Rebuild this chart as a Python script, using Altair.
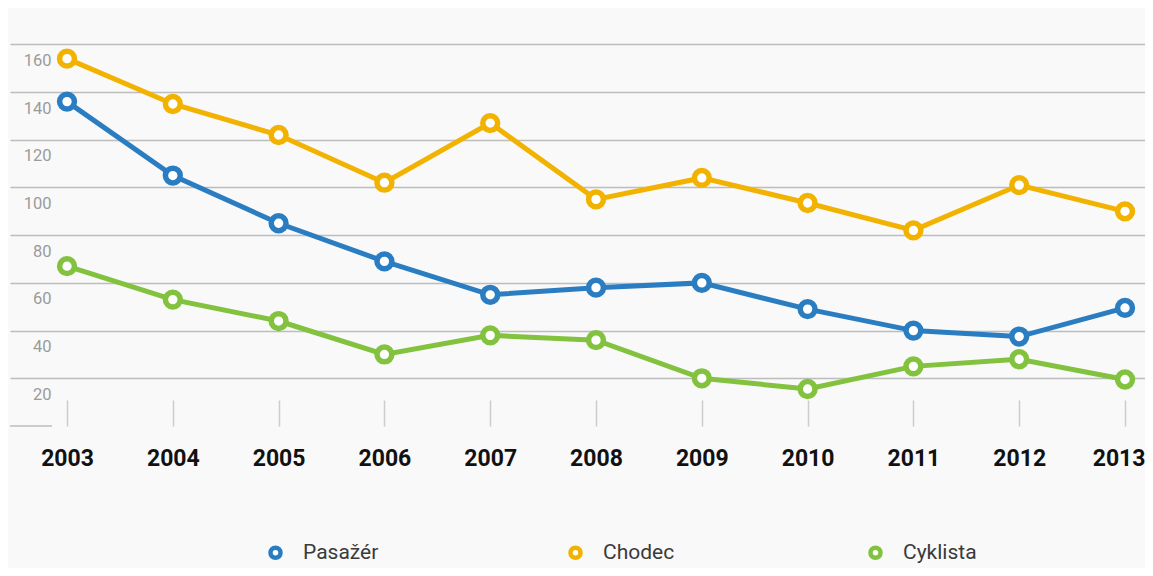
import altair as alt
import pandas as pd

years = [2003, 2004, 2005, 2006, 2007, 2008, 2009, 2010, 2011, 2012, 2013]
series = ["Pasažér", "Chodec", "Cyklista"]
pasazer = [136, 105, 85, 69, 55, 58, 60, 49, 40, 37.5, 49.5]
chodec = [154, 135, 122, 102, 127, 95, 104, 93.5, 82, 101, 90]
cyklista = [67, 53, 44, 30, 38, 36, 20, 15.5, 25, 28, 19.5]
y_ticks = [20, 40, 60, 80, 100, 120, 140, 160]
colors = ["#2b7dc2", "#f2b200", "#82c23e"]

rows = []
for name, vals in zip(series, [pasazer, chodec, cyklista]):
    for yr, v in zip(years, vals):
        rows.append({"rok": yr, "hodnota": v, "typ": name})
df = pd.DataFrame(rows)

xscale = alt.Scale(domain=[2002.461, 2013.189], nice=False, zero=False)
yscale = alt.Scale(domain=[0, 174.4], nice=False)
cscale = alt.Scale(domain=series, range=colors)

legend = alt.Legend(title=None, orient="none", legendX=255, legendY=532,
                    direction="horizontal", columns=3, gridAlign="all",
                    columnPadding=182, symbolType="circle",
                    symbolSize=100, symbolStrokeWidth=4.5,
                    symbolFillColor="#ffffff", labelOffset=17,
                    labelFont="Roboto", labelFontSize=21,
                    labelColor="#3a3a3a")

x_enc = alt.X("rok:Q", scale=xscale,
              axis=alt.Axis(values=years, format="d", title=None, grid=False,
                            domain=False, ticks=True, tickSize=26, tickWidth=1.5,
                            tickColor="#cccccc", offset=-26, labelPadding=21,
                            labelFont="Roboto", labelFontSize=23, labelFontWeight="bold",
                            labelColor="#111111", labelFlush=30, labelFlushOffset=20))
y_enc = alt.Y("hodnota:Q", scale=yscale,
              axis=alt.Axis(values=y_ticks, title=None, grid=True, gridColor="#bdbdbd",
                            gridWidth=1.5, domain=False, ticks=False, tickSize=0,
                            labelAlign="right", labelPadding=-41, labelOffset=16,
                            labelFont="Roboto", labelFontSize=16.5, labelColor="#9b9b9b"))

base = alt.Chart(df)

zero_line = alt.Chart(pd.DataFrame({"hodnota": [0]})).mark_rule(
    color="#bdbdbd", strokeWidth=1.5
).encode(y=alt.Y("hodnota:Q", scale=yscale), x=alt.value(0), x2=alt.value(42))

lines = base.mark_line(strokeWidth=5).encode(
    x=x_enc, y=y_enc,
    color=alt.Color("typ:N", scale=cscale, legend=legend),
    detail="typ:N",
)

points = base.mark_point(shape="circle", filled=False, fill="#ffffff", fillOpacity=1,
                         strokeWidth=5.5, size=220, opacity=1).encode(
    x="rok:Q", y="hodnota:Q",
    color=alt.Color("typ:N", scale=cscale, legend=legend),
)

chart = alt.layer(zero_line, lines, points).properties(
    width=1135, height=416,
    autosize=alt.AutoSizeParams(type="none"),
    padding={"left": 2, "top": 2, "right": 0, "bottom": 142},
    background="#f9f9f9",
).configure_view(stroke=None)

chart.save("out.html", embed_options={"renderer": "svg", "actions": False})
